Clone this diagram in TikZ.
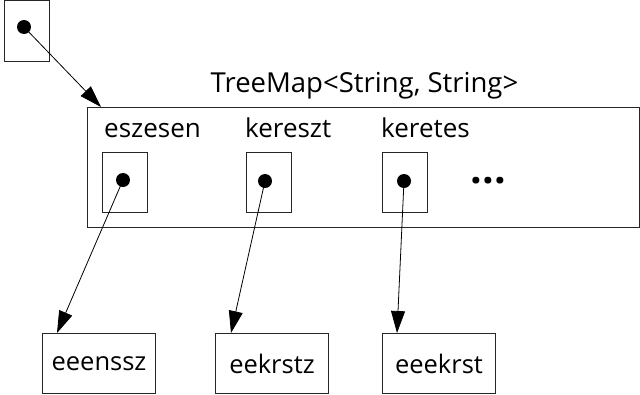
\documentclass[tikz,border=0pt]{standalone}
\usepackage{fontspec}
\setmainfont{Open Sans}
\usetikzlibrary{arrows.meta,calc}
\begin{document}
\begin{tikzpicture}[x=1pt,y=-1pt,
  box/.style={draw=black!85, line width=1pt, inner sep=0pt},
  ptrbox/.style={box, minimum width=45pt, minimum height=60pt},
  valbox/.style={box, minimum width=113pt, minimum height=60pt, font=\fontsize{25.5}{28}\selectfont},
  dot/.style={circle, fill=black, inner sep=0pt, minimum size=14pt},
  lbl/.style={inner sep=0pt, font=\fontsize{26}{29}\selectfont},
  ptr/.style={line width=0.8pt, -{Triangle[length=22pt,width=14pt]}}]
\useasboundingbox (0,0) rectangle (640,394);
% root pointer
\node[ptrbox, anchor=north west, minimum height=61pt] (root) at (4,0) {};
\node[dot] (d0) at (24,27) {};
% map box
\node[box, anchor=north west, minimum width=552pt, minimum height=120pt] (map) at (87,107) {};
\node[lbl, anchor=base, font=\fontsize{27.5}{30}\selectfont] (title) at (364.5,92) {TreeMap<String, String>};
\node[lbl, anchor=base west] (k1) at (104,137) {eszesen};
\node[lbl, anchor=base west] (k2) at (245,137) {kereszt};
\node[lbl, anchor=base west] (k3) at (381,137) {keretes};
\node[lbl, anchor=base, font=\fontsize{41}{44}\selectfont\bfseries] (more) at (488.5,183) {...};
\node[ptrbox, anchor=north west] (p1) at (102,152) {};
\node[ptrbox, anchor=north west] (p2) at (246,152) {};
\node[ptrbox, anchor=north west] (p3) at (382,152) {};
\node[dot] (d1) at (123,180) {};
\node[dot] (d2) at (265,181) {};
\node[dot] (d3) at (404,181) {};
% value boxes
\node[valbox, anchor=north west] (v1) at (42,333) {eeenssz};
\node[valbox, anchor=north west] (v2) at (215,333) {eekrstz};
\node[valbox, anchor=north west] (v3) at (382,333) {eeekrst};
% connectors
\draw[ptr] (d0.center) -- ($(map.north west)+(14,0)$);
\draw[ptr] (d1.center) -- ($(v1.north west)+(15,0)$);
\draw[ptr] (d2.center) -- ($(v2.north west)+(16,0)$);
\draw[ptr] (d3.center) -- ($(v3.north west)+(15,0)$);
\end{tikzpicture}
\end{document}
